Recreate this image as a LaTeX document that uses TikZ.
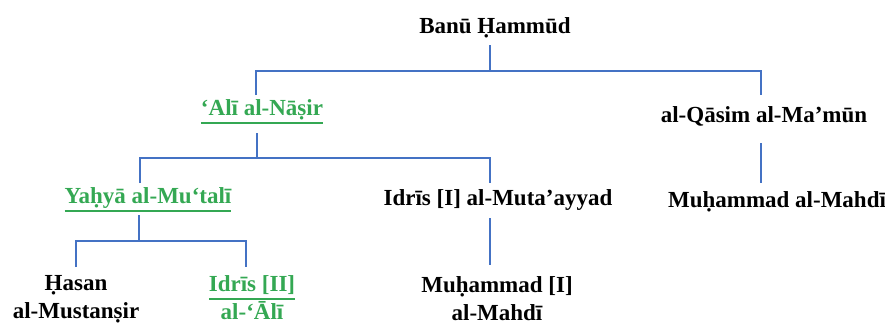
\documentclass[tikz,border=0pt]{standalone}
\usepackage{fontspec}
\setmainfont{Liberation Serif}
\definecolor{lineblue}{RGB}{68,114,196}
\definecolor{namegreen}{RGB}{52,168,83}
\newcommand\ulgreen[1]{\setbox0=\hbox{#1}\leavevmode\rlap{\rule[-8.5pt]{\wd0}{1.8pt}}\box0}
\begin{document}
\begin{tikzpicture}[x=1pt,y=-1pt,
  pname/.style={font=\fontsize{23}{27.6}\selectfont\bfseries, inner sep=0pt, outer sep=0pt, anchor=base, text=black, text height=16pt, text depth=5pt},
  twoline/.style={font=\fontsize{23}{27.6}\selectfont\bfseries, inner sep=0pt, outer sep=0pt, align=center, anchor=north, text=black},
  gname/.style={text=namegreen},
  conn/.style={draw=lineblue, line width=2.2pt}]
\useasboundingbox (0,0) rectangle (885,324);
% names
\node[pname] (banu) at (495,33) {Banū Ḥammūd};
\node[pname,gname] (ali) at (262,115) {\ulgreen{‘Alī al-Nāṣir}};
\node[pname] (qasim) at (764,122) {al-Qāsim al-Ma’mūn};
\node[pname,gname] (yahya) at (148,203) {\ulgreen{Yaḥyā al-Mu‘talī}};
\node[pname] (idrisI) at (498,205) {Idrīs [I] al-Muta’ayyad};
\node[pname] (muhM) at (777,207) {Muḥammad al-Mahdī};
\node[twoline] (hasan) at (76,275.5) {Ḥasan\\al-Mustanṣir};
\node[twoline,gname] (idrisII) at (252,275.5) {\ulgreen{Idrīs [II]}\\\ulgreen{al-‘Ālī}};
\node[twoline] (muhI) at (497,276.5) {Muḥammad [I]\\al-Mahdī};
% fork points
\coordinate (f1) at (490,71);
\coordinate (a1) at (256,71);
\coordinate (q1) at (761,71);
\coordinate (f2) at (257,158);
\coordinate (y1) at (140,158);
\coordinate (i1) at (490,158);
\coordinate (f3) at (139,241);
\coordinate (h1) at (76,241);
\coordinate (d1) at (246,241);
% connectors
\draw[conn, shorten <=7pt] (f1 |- banu.south) -- (f1);
\draw[conn, shorten <=4pt, shorten >=11pt] (ali.north -| a1) -- (a1) -- (q1) -- (qasim.north -| q1);
\draw[conn, shorten <=13pt] (f2 |- ali.south) -- (f2);
\draw[conn, shorten <=4pt, shorten >=6pt] (yahya.north -| y1) -- (y1) -- (i1) -- (idrisI.north -| i1);
\draw[conn, shorten <=16pt, shorten >=8pt] (qasim.south -| q1) -- (muhM.north -| q1);
\draw[conn, shorten <=7pt] (f3 |- yahya.south) -- (f3);
\draw[conn, shorten <=8.5pt, shorten >=8.5pt] (hasan.north -| h1) -- (h1) -- (d1) -- (idrisII.north -| d1);
\draw[conn, shorten <=8pt, shorten >=11.5pt] (idrisI.south -| i1) -- (muhI.north -| i1);
\end{tikzpicture}
\end{document}
